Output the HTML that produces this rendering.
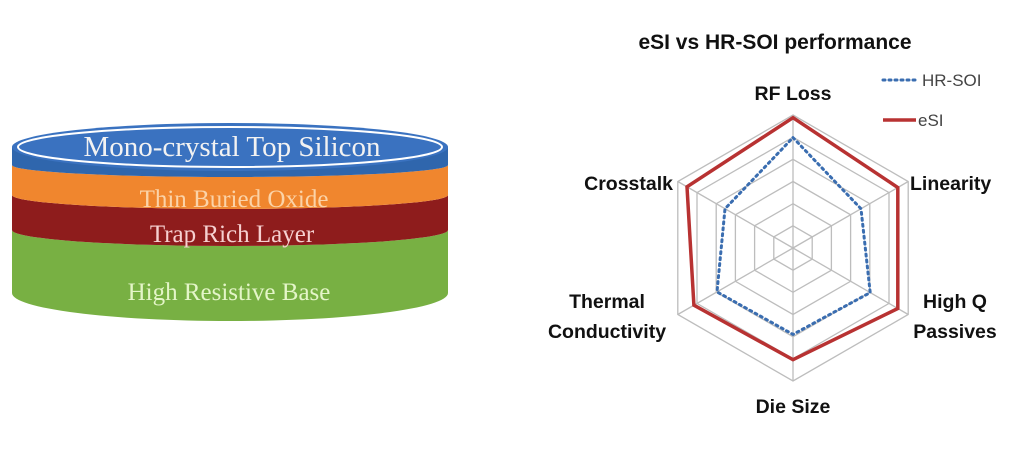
<!DOCTYPE html>
<html><head><meta charset="utf-8"><style>
html,body{margin:0;padding:0;background:#fff;}
svg{display:block}
</style></head><body>
<svg id="s" width="1024" height="449" viewBox="0 0 1024 449" xmlns="http://www.w3.org/2000/svg">
<rect width="1024" height="449" fill="#fff"/>
<!-- cylinder -->
<path d="M12,230 A218,16 0 0 0 448,230 L448,293 A218,28 0 0 1 12,293 Z" fill="#78b043"/>
<path d="M12,195 A218,14 0 0 0 448,195 L448,230 A218,16 0 0 1 12,230 Z" fill="#8e1c1c"/>
<path d="M12,165 A218,12 0 0 0 448,165 L448,195 A218,14 0 0 1 12,195 Z" fill="#f0862e"/>
<path d="M12,147 L448,147 L448,165 A218,12 0 0 1 12,165 Z" fill="#2f66ad"/>
<ellipse cx="230" cy="147" rx="218" ry="24" fill="#3a72c0"/>
<ellipse cx="230" cy="147" rx="212" ry="20" fill="none" stroke="#fff" stroke-width="2"/>
<g font-family="Liberation Serif, serif" text-anchor="middle">
<text x="232" y="156" font-size="29" fill="#f2f2f2">Mono-crystal Top Silicon</text>
<text x="234" y="207" font-size="25" fill="#fbd3a8">Thin Buried Oxide</text>
<text x="232" y="242" font-size="25" fill="#f6d0d0">Trap Rich Layer</text>
<text x="229" y="300" font-size="25" fill="#e4f5c8">High Resistive Base</text>
</g>
<!-- radar -->
<text x="775" y="49" font-family="Liberation Sans, sans-serif" font-weight="bold" font-size="21" text-anchor="middle" fill="#111">eSI vs HR-SOI performance</text>
<g id="grid" stroke="#bdbdbd" stroke-width="1.3" fill="none"></g>
<polygon id="hr" fill="none" stroke="#3a6db0" stroke-width="3" stroke-dasharray="2,4" stroke-linecap="round"/>
<polygon id="es" fill="none" stroke="#b83232" stroke-width="3.5"/>
<line x1="883" y1="80" x2="916" y2="80" stroke="#3a6db0" stroke-width="3" stroke-dasharray="2,4" stroke-linecap="round"/>
<line x1="883" y1="120" x2="916" y2="120" stroke="#b83232" stroke-width="3.5"/>
<g font-family="Liberation Sans, sans-serif" font-size="17" fill="#444">
<text x="922" y="86">HR-SOI</text>
<text x="918" y="126">eSI</text>
</g>
<g font-family="Liberation Sans, sans-serif" font-weight="bold" font-size="19.5" fill="#111">
<text x="793" y="100" text-anchor="middle">RF Loss</text>
<text x="673" y="190" text-anchor="end">Crosstalk</text>
<text x="910" y="190">Linearity</text>
<text x="607" y="308" text-anchor="middle">Thermal</text>
<text x="607" y="338" text-anchor="middle">Conductivity</text>
<text x="955" y="308" text-anchor="middle">High Q</text>
<text x="955" y="338" text-anchor="middle">Passives</text>
<text x="793" y="413" text-anchor="middle">Die Size</text>
</g>
</svg>
<script>
var cx=793,cy=248,R=133,ns="http://www.w3.org/2000/svg";
function pt(i,f){var a=(-90+60*i)*Math.PI/180;return (cx+R*f*Math.cos(a)).toFixed(1)+","+(cy+R*f*Math.sin(a)).toFixed(1);}
function poly(v){return v.map(function(f,i){return pt(i,f)}).join(" ");}
var g=document.getElementById("grid");
for(var k=1;k<=6;k++){var p=document.createElementNS(ns,"polygon");p.setAttribute("points",poly([k/6,k/6,k/6,k/6,k/6,k/6]));g.appendChild(p);}
for(var i=0;i<6;i++){var l=document.createElementNS(ns,"polyline");l.setAttribute("points",cx+","+cy+" "+pt(i,1));g.appendChild(l);}
document.getElementById("hr").setAttribute("points",poly([0.83,0.59,0.67,0.65,0.66,0.59]));
document.getElementById("es").setAttribute("points",poly([0.98,0.91,0.91,0.84,0.86,0.92]));
</script>
</body></html>
